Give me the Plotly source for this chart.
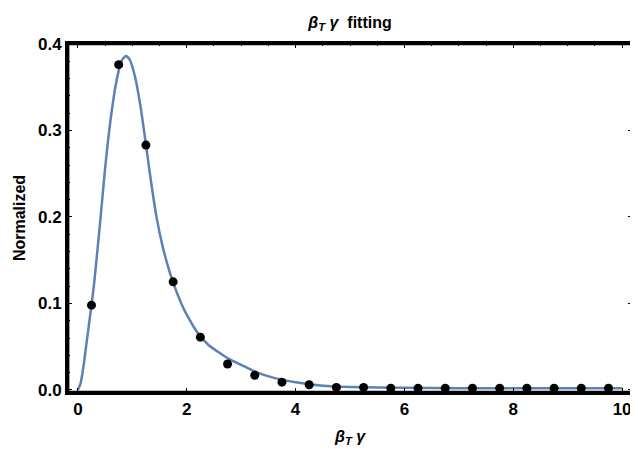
import plotly.graph_objects as go

# measured data points (bin centres)
bin_x = [0.25, 0.75, 1.25, 1.75, 2.25, 2.75, 3.25, 3.75, 4.25, 4.75,
         5.25, 5.75, 6.25, 6.75, 7.25, 7.75, 8.25, 8.75, 9.25, 9.75]
bin_y = [0.098, 0.376, 0.283, 0.125, 0.061, 0.030, 0.017, 0.009, 0.006, 0.003,
         0.003, 0.002, 0.002, 0.002, 0.002, 0.002, 0.002, 0.002, 0.002, 0.002]

# fitted curve
fit_x = [0, 0.05, 0.1, 0.15, 0.2, 0.25, 0.3, 0.4, 0.5, 0.6, 0.7, 0.8, 0.88, 0.95,
         1.05, 1.15, 1.25, 1.35, 1.45, 1.55, 1.65, 1.75, 1.9, 2.0, 2.2, 2.4, 2.6,
         2.8, 3.0, 3.3, 3.6, 4.0, 4.5, 5.0, 6.0, 7.0, 8.0, 9.0, 10.0]
fit_y = [0, 0.008, 0.026, 0.050, 0.074, 0.098, 0.124, 0.188, 0.256, 0.312, 0.354,
         0.380, 0.386, 0.382, 0.362, 0.328, 0.284, 0.238, 0.198, 0.168, 0.144,
         0.124, 0.100, 0.087, 0.066, 0.052, 0.043, 0.035, 0.029, 0.020, 0.014,
         0.009, 0.005, 0.0035, 0.0025, 0.002, 0.002, 0.002, 0.002]

fig = go.Figure()
fig.add_trace(go.Scatter(x=fit_x, y=fit_y, mode="lines",
                         line=dict(color="#5E81B5", width=2.5, shape="spline", smoothing=0.6)))
fig.add_trace(go.Scatter(x=bin_x, y=bin_y, mode="markers",
                         marker=dict(color="black", size=9)))

axis_common = dict(
    showgrid=False, zeroline=False, showline=True, linecolor="black", linewidth=2,
    mirror="allticks", ticks="inside", ticklen=5, tickwidth=1.2, tickcolor="black",
    tickfont=dict(family="Liberation Sans", size=17, color="black", weight="bold"),
)
title_font = dict(family="Liberation Sans", size=16, color="black", weight="bold")

# page body has an 8px default margin, so the figure is 8px smaller and offset
fig.update_layout(
    width=630, height=441,
    margin=dict(l=59, r=3, t=35, b=56),
    plot_bgcolor="white", paper_bgcolor="white",
    showlegend=False,
    title=dict(text="<i>β<sub>T</sub> γ</i>  fitting", x=0.5, xref="paper", xanchor="center",
               y=0.968, yref="container", yanchor="middle",
               font=dict(family="Liberation Sans", size=16, color="black", weight="bold")),
    xaxis=dict(range=[-0.2, 10.2], dtick=2, tick0=0,
               minor=dict(dtick=0.5, ticklen=2.5, ticks="inside", tickcolor="black"),
               title=dict(text="<i>β<sub>T</sub> γ</i>", standoff=12, font=title_font),
               **axis_common),
    yaxis=dict(range=[-0.0035, 0.401], dtick=0.1, tick0=0, tickformat=".1f",
               minor=dict(dtick=0.02, ticklen=2.5, ticks="inside", tickcolor="black"),
               title=dict(text="Normalized", standoff=8, font=title_font),
               **axis_common),
)

# frame box around the plot area, drawn just inside the plot edges
fig.add_shape(type="rect", xref="paper", yref="paper",
              x0=0.002, y0=0.003, x1=0.998, y1=0.997,
              line=dict(color="black", width=2.5), fillcolor="rgba(0,0,0,0)", layer="above")

fig.write_html("out.html")
